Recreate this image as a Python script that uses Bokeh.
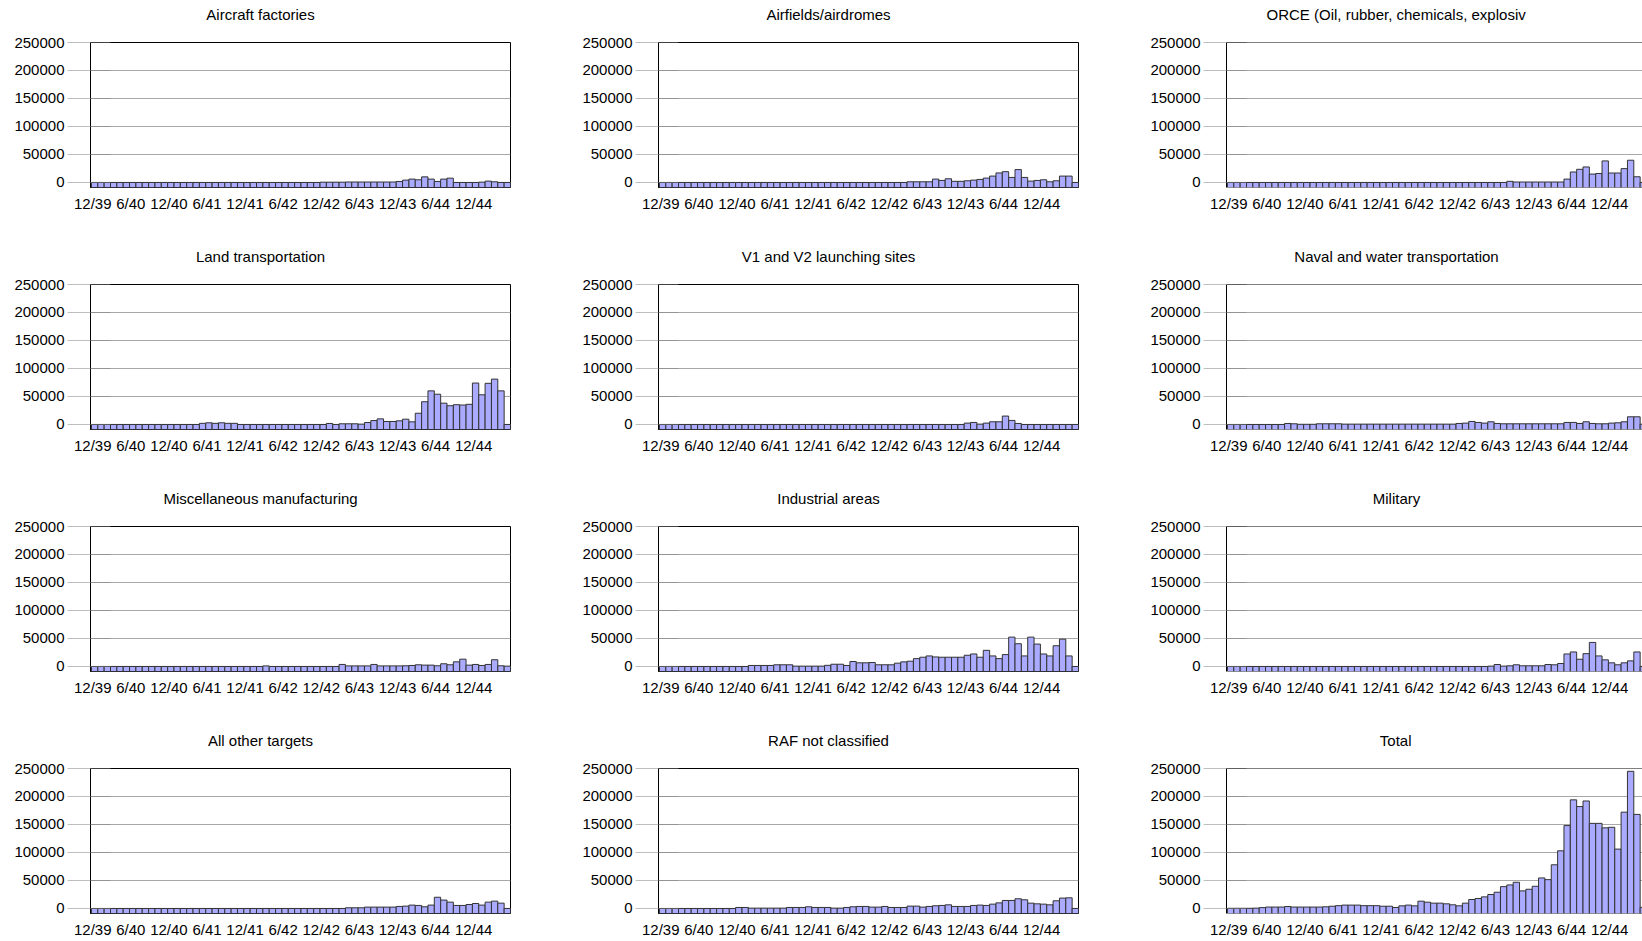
from bokeh.plotting import figure
from bokeh.layouts import column, row
from bokeh.models import Range1d, FixedTicker, NumeralTickFormatter, Span
from bokeh.embed import file_html
from bokeh.resources import INLINE

# ---------------- data (monthly tonnage, 12/39 .. 5/45) ----------------
tick_labels = ["12/39", "6/40", "12/40", "6/41", "12/41", "6/42", "12/42",
               "6/43", "12/43", "6/44", "12/44"]
tick_months = [0, 6, 12, 18, 24, 30, 36, 42, 48, 54, 60]
y_ticks = [0, 50000, 100000, 150000, 200000, 250000]

aircraft_factories = [
    0, 0, 0, 0, 0, 0, 0, 0, 0, 0, 0, 0, 0, 0, 0, 0, 0, 0, 0, 0,
    0, 0, 0, 0, 0, 0, 0, 0, 0, 0, 0, 0, 0, 0, 0, 0, 500, 500, 500, 500,
    800, 800, 800, 800, 800, 800, 800, 800, 1800, 4200, 6000, 4800, 10000, 6000, 1800, 6000,
    7700, 0, 0, 0, 0, 600, 2400, 1200, 0, 0]
airfields = [
    0, 0, 0, 0, 0, 0, 0, 0, 0, 0, 0, 0, 0, 0, 0, 0, 0, 0, 0, 0,
    0, 0, 0, 0, 0, 0, 0, 0, 0, 0, 0, 0, 0, 0, 0, 0, 0, 0, 0, 1200,
    1200, 1200, 1200, 6000, 3600, 6600, 2000, 2000, 3000, 4200, 5400, 7800, 11400, 17000, 19300, 9000,
    23000, 9000, 2400, 3600, 4800, 1200, 3000, 11400, 11400, 0]
orce = [
    0, 0, 0, 0, 0, 0, 0, 0, 0, 0, 0, 0, 0, 0, 0, 0, 0, 0, 0, 0,
    0, 0, 0, 0, 0, 0, 0, 0, 0, 0, 0, 0, 0, 0, 0, 0, 0, 0, 0, 0,
    0, 0, 0, 0, 2000, 800, 800, 800, 800, 800, 800, 800, 800, 6000, 18700, 23500,
    27700, 15000, 16000, 38500, 16900, 16900, 24700, 39700, 10200, 0]
land_transportation = [
    0, 0, 0, 0, 0, 0, 0, 0, 0, 0, 0, 0, 0, 0, 0, 0, 0, 2000, 3000, 2000,
    3000, 2000, 2000, 0, 0, 0, 0, 0, 0, 0, 0, 0, 0, 0, 0, 0, 0, 1800, 0, 1200,
    1200, 1200, 600, 3500, 7000, 10000, 5300, 5300, 6500, 9400, 4700, 20000, 40600, 60000, 54000, 38000,
    33500, 35300, 34700, 36000, 74000, 53000, 73500, 81000, 60000, 0]
v1_v2_sites = [
    0, 0, 0, 0, 0, 0, 0, 0, 0, 0, 0, 0, 0, 0, 0, 0, 0, 0, 0, 0,
    0, 0, 0, 0, 0, 0, 0, 0, 0, 0, 0, 0, 0, 0, 0, 0, 0, 0, 0, 0,
    0, 0, 0, 0, 0, 0, 0, 0, 2400, 3600, 600, 2400, 4800, 4800, 15000, 7200,
    1800, 0, 0, 0, 0, 0, 0, 0, 0, 0]
naval = [
    0, 0, 0, 0, 0, 0, 0, 0, 0, 1800, 1200, 300, 300, 300, 1200, 1200, 1200, 1200, 600, 600,
    600, 600, 600, 600, 600, 600, 600, 600, 600, 600, 600, 600, 600, 600, 600, 600, 1800, 2400, 5400, 3600,
    2400, 4800, 1800, 1200, 1200, 1200, 1200, 1200, 1200, 1200, 1200, 1200, 1200, 3600, 3600, 1800,
    4800, 1800, 1200, 1200, 2400, 3000, 4800, 13700, 13700, 500]
misc_manufacturing = [
    0, 0, 0, 0, 0, 0, 0, 0, 0, 0, 0, 0, 0, 0, 0, 0, 0, 0, 0, 0,
    0, 0, 0, 0, 0, 0, 0, 1000, 0, 0, 0, 0, 0, 0, 0, 0, 0, 0, 0, 3600,
    1000, 1000, 1000, 1000, 3600, 1000, 1000, 1000, 1000, 1200, 1800, 3000, 2400, 2400, 1200, 4800,
    3000, 8300, 13000, 2400, 3600, 1800, 3600, 12000, 1200, 600]
industrial_areas = [
    0, 0, 0, 0, 0, 0, 0, 0, 0, 0, 0, 0, 0, 0, 1800, 1800, 1800, 1800, 3000, 3000,
    3000, 600, 600, 600, 600, 600, 2000, 4000, 4000, 1800, 8800, 6500, 6500, 7000, 3000, 3000, 3000, 5900, 8200, 9400,
    14000, 16500, 18800, 17000, 16500, 16500, 16500, 16500, 20000, 22300, 16500, 28800, 18800, 14000, 21200, 52400,
    40600, 18800, 52400, 40000, 22300, 18800, 37000, 48800, 18800, 0]
military = [
    0, 0, 0, 0, 0, 0, 0, 0, 0, 0, 0, 0, 0, 0, 0, 0, 0, 0, 0, 0,
    0, 0, 0, 0, 0, 0, 0, 0, 0, 0, 0, 0, 0, 0, 0, 0, 0, 0, 0, 0,
    0, 600, 3500, 600, 1200, 3000, 1200, 1200, 1200, 1200, 3500, 3000, 5300, 22300, 25900, 12900,
    22900, 42900, 18800, 11800, 6500, 3000, 6500, 10000, 25900, 0]
all_other = [
    0, 0, 0, 0, 0, 0, 0, 0, 0, 0, 0, 0, 0, 0, 0, 0, 0, 0, 0, 0,
    0, 0, 0, 0, 0, 0, 0, 0, 0, 0, 0, 0, 0, 0, 0, 0, 0, 0, 0, 0,
    1200, 1200, 1200, 2400, 2400, 2400, 2400, 2400, 3600, 4200, 6000, 5400, 3000, 6000, 20000, 15000,
    11300, 5400, 5400, 7100, 8900, 6000, 11300, 13100, 9500, 0]
raf_not_classified = [
    0, 0, 0, 0, 0, 0, 0, 0, 0, 0, 0, 0, 1800, 1800, 600, 600, 600, 600, 600, 600,
    1800, 1800, 1800, 3000, 1800, 1800, 1800, 600, 600, 1800, 3000, 3600, 3600, 2400, 2400, 3600, 1800, 1800, 1800, 4200,
    4200, 2400, 3600, 4800, 5400, 6500, 3600, 3600, 3600, 5400, 6000, 5400, 7700, 10000, 14300, 14300,
    17300, 15500, 9500, 8300, 7700, 6500, 13700, 18500, 19000, 0]
total = [
    300, 300, 300, 300, 600, 1500, 2500, 2500, 2500, 3500, 2500, 2500, 2500, 2500, 2500, 3000, 4000, 5000, 6000, 6000,
    6000, 5000, 5000, 5000, 4000, 4000, 1800, 4700, 6000, 4700, 13000, 11200, 9500, 9500, 8300, 6500, 4700, 9500, 16000, 17800,
    20700, 24900, 29000, 39000, 42000, 46800, 31400, 34300, 39600, 54500, 51500, 78000, 103000, 148000, 194000, 182000,
    192000, 152000, 152000, 144000, 145000, 106000, 172000, 245000, 168000, 2000]

titles = ["Aircraft factories", "Airfields/airdromes", "ORCE (Oil, rubber, chemicals, explosiv",
          "Land transportation", "V1 and V2 launching sites", "Naval and water transportation",
          "Miscellaneous manufacturing", "Industrial areas", "Military",
          "All other targets", "RAF not classified", "Total"]
series = [aircraft_factories, airfields, orce,
          land_transportation, v1_v2_sites, naval,
          misc_manufacturing, industrial_areas, military,
          all_other, raf_not_classified, total]

# ---------------- styling / layout ----------------
FONT = "Liberation Sans"
FS = "15px"
COL_W = [568, 568, 506]
ROW_H = [242, 242, 242, 215]
B_LEFT = 90
B_TOP = 42
FRAME_H = 145
FRAME_W = 420
Y_START = -9000
Y_END = 250000
X_START = -0.65
X_END = 65.5
UNIT = FRAME_W / (X_END - X_START)
BAR_FILL = "#aaaaff"
BAR_LINE = "#333333"

# Arial / Liberation Sans advance widths (1/1000 em), to place titles
ARIAL = {' ': 278, '(': 333, ')': 333, ',': 278, '/': 278, '1': 556, '2': 556,
         'A': 667, 'C': 722, 'E': 667, 'F': 611, 'I': 278, 'L': 556, 'M': 833,
         'N': 722, 'O': 778, 'R': 722, 'T': 611, 'V': 667,
         'a': 556, 'b': 556, 'c': 500, 'd': 556, 'e': 556, 'f': 278, 'g': 556,
         'h': 556, 'i': 222, 'k': 500, 'l': 222, 'm': 833, 'n': 556, 'o': 556,
         'p': 556, 'r': 333, 's': 500, 't': 278, 'u': 556, 'v': 500, 'w': 722,
         'x': 500, 'y': 500}


def text_width(s, size=15.0):
    return sum(ARIAL.get(ch, 556) for ch in s) * size / 1000.0


months = list(range(len(total)))
x_tick_pos = [m - 0.3 for m in tick_months]


def make_panel(title, vals, r, c):
    w = COL_W[c]
    h = ROW_H[r]
    frame_w = min(FRAME_W, w - B_LEFT)
    x_end = X_START + frame_w / UNIT
    p = figure(width=w, height=h,
               x_range=Range1d(X_START, x_end), y_range=Range1d(Y_START, Y_END),
               output_backend="svg", toolbar_location=None,
               min_border_left=B_LEFT, min_border_right=w - B_LEFT - frame_w,
               min_border_top=B_TOP, min_border_bottom=max(h - B_TOP - FRAME_H, 0),
               title=title + "\n ")
    p.background_fill_color = "white"
    p.border_fill_color = "white"

    t = p.title
    t.align = "left"
    t.offset = 170 - text_width(title) / 2
    t.vertical_align = "top"
    t.standoff = 0
    t.text_font = FONT
    t.text_font_size = FS
    t.text_font_style = "normal"
    t.text_color = "#000000"
    t.text_line_height = 1.05

    p.vbar(x=months, top=vals, bottom=Y_START, width=1,
           fill_color=BAR_FILL, line_color=BAR_LINE, line_width=1)

    xa = p.xaxis[0]
    xa.ticker = FixedTicker(ticks=x_tick_pos)
    xa.major_label_overrides = {pos: lab for pos, lab in zip(x_tick_pos, tick_labels)}
    xa.axis_line_color = None
    xa.major_tick_line_color = None
    xa.minor_tick_line_color = None
    xa.major_tick_out = 0
    xa.major_tick_in = 0
    xa.major_label_standoff = 7
    xa.major_label_text_font = FONT
    xa.major_label_text_font_size = FS
    xa.major_label_text_color = "#000000"

    ya = p.yaxis[0]
    ya.ticker = FixedTicker(ticks=y_ticks)
    ya.formatter = NumeralTickFormatter(format="0")
    ya.axis_line_color = "#000000"
    ya.major_tick_out = 23
    ya.major_tick_in = 20
    ya.major_tick_line_color = "#808080"
    ya.major_tick_line_alpha = 0.5
    ya.minor_tick_line_color = None
    ya.major_label_standoff = 3
    ya.major_label_text_font = FONT
    ya.major_label_text_font_size = FS
    ya.major_label_text_color = "#000000"

    p.xgrid.grid_line_color = None
    p.ygrid.grid_line_color = "#a8a8a8"

    if c < 2:
        p.outline_line_color = "#000000"
    else:
        p.outline_line_color = None
        p.add_layout(Span(location=Y_END, dimension="width",
                          line_color="#000000", line_width=1))
    return p


rows = []
for r in range(4):
    figs = [make_panel(titles[3 * r + c], series[3 * r + c], r, c) for c in range(3)]
    rows.append(row(*figs))

layout = column(*rows)
open("out.html", "w").write(file_html(layout, INLINE))
